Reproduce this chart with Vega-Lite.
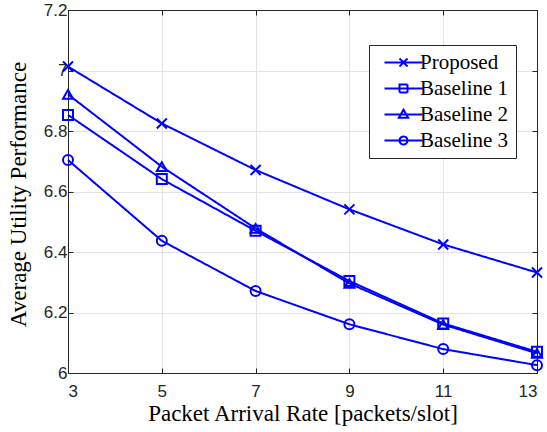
{
  "$schema": "https://vega.github.io/schema/vega-lite/v6.json",
  "width": 469,
  "height": 363,
  "autosize": {"type": "none"},
  "padding": {"left": 68, "top": 10, "right": 10, "bottom": 59},
  "background": "white",
  "config": {
    "view": {"stroke": "#262626", "strokeWidth": 1},
    "axis": {
      "domainColor": "#262626",
      "tickColor": "#262626",
      "gridColor": "#e3e3e3",
      "gridWidth": 1,
      "labelFont": "Liberation Sans",
      "labelFontSize": 17,
      "labelColor": "#262626",
      "titleFont": "Liberation Serif",
      "titleFontSize": 23,
      "titleFontWeight": "normal",
      "titleColor": "#000000"
    },
    "legend": {
      "labelFont": "Liberation Serif",
      "labelFontSize": 21,
      "labelColor": "#000000",
      "symbolSize": 64,
      "rowPadding": 4,
      "padding": 7
    }
  },
  "data": {
    "values": [
      {"x": 3, "y": 7.013, "series": "Proposed"},
      {"x": 5, "y": 6.825, "series": "Proposed"},
      {"x": 7, "y": 6.671, "series": "Proposed"},
      {"x": 9, "y": 6.541, "series": "Proposed"},
      {"x": 11, "y": 6.425, "series": "Proposed"},
      {"x": 13, "y": 6.332, "series": "Proposed"},
      {"x": 3, "y": 6.853, "series": "Baseline 1"},
      {"x": 5, "y": 6.641, "series": "Baseline 1"},
      {"x": 7, "y": 6.47, "series": "Baseline 1"},
      {"x": 9, "y": 6.304, "series": "Baseline 1"},
      {"x": 11, "y": 6.164, "series": "Baseline 1"},
      {"x": 13, "y": 6.07, "series": "Baseline 1"},
      {"x": 3, "y": 6.921, "series": "Baseline 2"},
      {"x": 5, "y": 6.682, "series": "Baseline 2"},
      {"x": 7, "y": 6.478, "series": "Baseline 2"},
      {"x": 9, "y": 6.296, "series": "Baseline 2"},
      {"x": 11, "y": 6.16, "series": "Baseline 2"},
      {"x": 13, "y": 6.065, "series": "Baseline 2"},
      {"x": 3, "y": 6.704, "series": "Baseline 3"},
      {"x": 5, "y": 6.437, "series": "Baseline 3"},
      {"x": 7, "y": 6.271, "series": "Baseline 3"},
      {"x": 9, "y": 6.161, "series": "Baseline 3"},
      {"x": 11, "y": 6.079, "series": "Baseline 3"},
      {"x": 13, "y": 6.026, "series": "Baseline 3"}
    ]
  },
  "layer": [
    {
      "mark": {"type": "line", "color": "#0000ff", "strokeWidth": 2},
      "encoding": {
        "x": {
          "field": "x", "type": "quantitative",
          "scale": {"domain": [3, 13], "nice": false, "zero": false},
          "axis": {
            "orient": "bottom",
            "values": [3, 5, 7, 9, 11, 13],
            "tickSize": -5,
            "labelPadding": 15,
            "title": "Packet Arrival Rate [packets/slot]",
            "titleBaseline": "alphabetic",
            "titleY": 47
          }
        },
        "y": {
          "field": "y", "type": "quantitative",
          "scale": {"domain": [6, 7.2], "nice": false, "zero": false},
          "axis": {
            "orient": "left",
            "values": [6, 6.2, 6.4, 6.6, 6.8, 7, 7.2],
            "format": "~g",
            "tickSize": -5,
            "labelPadding": 6,
            "title": "Average Utility Performance",
            "titleBaseline": "alphabetic",
            "titleX": -43,
            "titleY": 184
          }
        },
        "strokeDash": {
          "field": "series", "type": "nominal",
          "scale": {
            "domain": ["Proposed", "Baseline 1", "Baseline 2", "Baseline 3"],
            "range": [[1, 0], [1, 0], [1, 0], [1, 0]]
          },
          "legend": {
            "title": null,
            "orient": "none",
            "legendX": 301,
            "legendY": 35,
            "padding": 7,
            "strokeColor": "#262626",
            "fillColor": "white",
            "symbolSize": 64,
            "symbolType": {"expr": "datum.value === 'Proposed' ? 'M-0.5,0H9M3.25,-1L5.25,1M3.25,1L5.25,-1' : datum.value === 'Baseline 1' ? 'M-0.5,0H9M3.25,-1H5.25V1H3.25Z' : datum.value === 'Baseline 2' ? 'M-0.5,0H9M4.25,-1.2L5.4,0.8H3.1Z' : 'M-0.5,0H9M3.25,0A1,1,0,1,1,5.25,0A1,1,0,1,1,3.25,0Z'"},
            "symbolStrokeWidth": 2,
            "symbolStrokeColor": "#0000ff",
            "symbolFillColor": "transparent",
            "labelFont": "Liberation Serif",
            "labelFontSize": 21,
            "labelColor": "#000000",
            "labelOffset": 23,
            "rowPadding": 4
          }
        }
      }
    },
    {
      "mark": {"type": "point", "filled": false, "color": "#0000ff", "strokeWidth": 2, "size": 100, "opacity": 1},
      "encoding": {
        "x": {
          "field": "x", "type": "quantitative",
          "axis": {"orient": "top", "values": [3, 5, 7, 9, 11, 13], "labels": false, "grid": false, "tickSize": -5, "title": null}
        },
        "y": {
          "field": "y", "type": "quantitative",
          "axis": {"orient": "right", "values": [6, 6.2, 6.4, 6.6, 6.8, 7, 7.2], "labels": false, "grid": false, "tickSize": -5, "title": null}
        },
        "shape": {
          "field": "series", "type": "nominal",
          "scale": {
            "range": ["square", "triangle-up", "circle", "M-1,-1L1,1M-1,1L1,-1"]
          },
          "legend": null
        }
      }
    }
  ],
  "resolve": {"axis": {"x": "independent", "y": "independent"}}
}
